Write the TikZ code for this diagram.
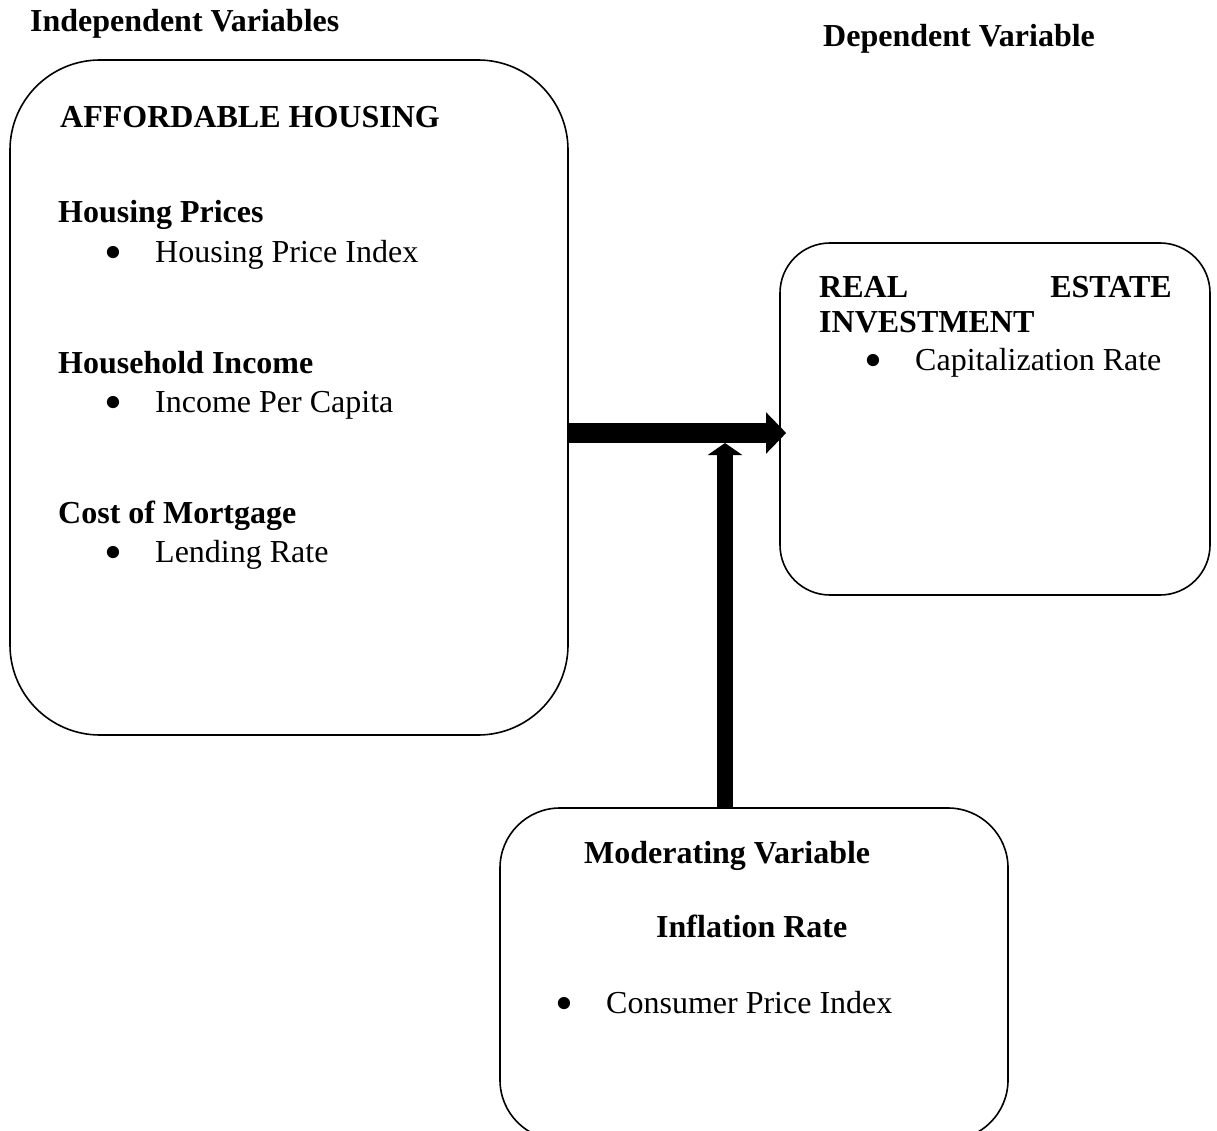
\documentclass[tikz,border=0pt]{standalone}
\usepackage{fontspec}
\setmainfont{Liberation Serif}
\usepackage{tikz}
\usetikzlibrary{arrows.meta}
\def\drawflow{\draw[line width=20pt, -{Triangle[length=20pt,width=40pt]}]}
\def\drawmod{\draw[line width=16pt, -{Triangle[length=12pt,width=34pt]}]}
\def\varnode{\node[varbox]}
\def\bul{\makebox[51pt][l]{\raisebox{-7pt}{\scalebox{1.6}{\textbullet}}}}

\begin{document}
\begin{tikzpicture}[x=1pt,y=-1pt,
  varbox/.style={draw=black, line width=1.6pt, inner sep=0pt},
  heading/.style={anchor=base west, inner sep=0pt, font=\fontsize{32}{38}\selectfont\bfseries},
  item/.style={anchor=base west, inner sep=0pt, font=\fontsize{32}{38}\selectfont}]
\useasboundingbox (0,0) rectangle (1217,1131);

% -------- the three boxes ---------
\varnode[rounded corners=90pt, minimum width=558pt, minimum height=675pt] (housing) at (289,397.5) {};
\varnode[rounded corners=50pt, minimum width=430pt, minimum height=352pt] (invest) at (995,419) {};
\varnode[rounded corners=60pt, minimum width=508pt, minimum height=332pt] (modvar) at (754,974) {}; % bottom edge runs off the page

% column titles
\node[heading] (indep) at (30,32) {Independent Variables};
\node[heading] (dep) at (823,47) {Dependent Variable};

% -------- independent variables ---------
\node[heading] (afford) at (60,128) {AFFORDABLE HOUSING};
\node[heading] (prices) at (58,223) {Housing Prices};
\node[item] (hpi) at (104,263) {\bul Housing Price Index};
\node[heading] (income) at (58,373) {Household Income};
\node[item] (ipc) at (104,412) {\bul Income Per Capita};
\node[heading] (mortgage) at (58,523) {Cost of Mortgage};
\node[item] (lending) at (104,562) {\bul Lending Rate};

% -------- dependent variable ---------
\node[heading] (real) at (819,298) {REAL};
\node[heading, anchor=base east] (estate) at (1172,298) {ESTATE};
\node[heading] (investment) at (819,332) {INVESTMENT};
\node[item] (caprate) at (864,370) {\bul Capitalization Rate};

% -------- moderating variable ---------
\node[heading] (modtitle) at (584,863) {Moderating Variable};
\node[heading] (inflation) at (656,937) {Inflation Rate};
\node[item] (cpi) at (555,1013) {\bul Consumer Price Index};

% Now for the arrows
\coordinate (joint) at (725,433); % centre line of the main arrow
\coordinate (meet) at (725,443);  % where the moderating arrow stops
\drawflow[shorten >=-7pt] (housing.east |- joint) to (invest.west |- joint);
\drawmod (modvar.north -| meet) to (meet);
\end{tikzpicture}
\end{document}
